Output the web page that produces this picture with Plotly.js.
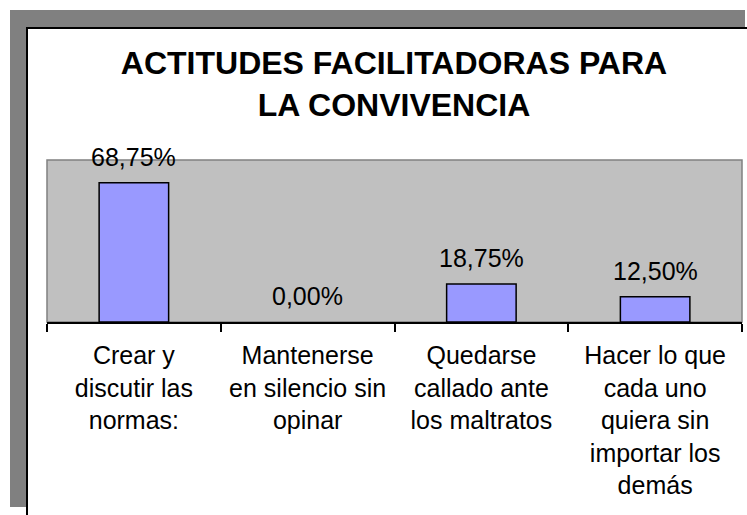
<!DOCTYPE html>
<html>
<head>
<meta charset="utf-8">
<script src="https://cdn.plot.ly/plotly-3.0.1.min.js"></script>
<style>
  html, body { margin: 0; padding: 0; background: #ffffff; overflow: hidden; width: 747px; height: 515px; }
  #shadow { position: absolute; left: 10px; top: 10px; width: 735px; height: 497px; background: #808080; }
  #frame { position: absolute; left: 26px; top: 27px; width: 740px; height: 510px; background: #ffffff;
           border-left: 2px solid #000; border-top: 2px solid #000; }
  #chart { position: absolute; left: 0; top: 0; width: 732px; height: 500px; }
</style>
</head>
<body>
<div id="shadow"></div>
<div id="frame"><div id="chart"></div></div>
<script>
// datos del gráfico
const categorias = [
  "Crear y<br>discutir las<br>normas:",
  "Mantenerse<br>en silencio sin<br>opinar",
  "Quedarse<br>callado ante<br>los maltratos",
  "Hacer lo que<br>cada uno<br>quiera sin<br>importar los<br>demás"
];
const porcentajes = [68.75, 0.00, 18.75, 12.50];
const titulo = "ACTITUDES FACILITADORAS PARA<br>LA CONVIVENCIA";

const fuente = "Liberation Sans, Arial, sans-serif";

// etiquetas de valor encima de cada barra
const etiquetas = categorias.map((c, i) => ({
  x: c,
  y: porcentajes[i],
  xref: "x",
  yref: "y",
  text: porcentajes[i].toFixed(2).replace(".", ",") + "%",
  showarrow: false,
  yanchor: "middle",
  yshift: 26,
  font: { family: fuente, size: 25, color: "#000" }
}));

// sin contorno visible en las barras de altura cero
const bordes = porcentajes.map(v => v > 0 ? 1.5 : 0);

Plotly.newPlot("chart", [{
  type: "bar",
  x: categorias,
  y: porcentajes,
  marker: { color: "#9999ff", line: { color: "#000", width: bordes } },
  hoverinfo: "skip"
}], {
  width: 732,
  height: 500,
  margin: { l: 19, r: 18, t: 131, b: 207 },
  paper_bgcolor: "#ffffff",
  plot_bgcolor: "#c0c0c0",
  bargap: 0.6,
  showlegend: false,
  font: { family: fuente, color: "#000" },
  title: {
    text: titulo,
    font: { family: fuente, size: 32, color: "#000", weight: "bold" },
    x: 0.5,
    xanchor: "center",
    y: 1 - 45 / 500,
    yref: "container",
    yanchor: "middle"
  },
  xaxis: {
    type: "category",
    tickson: "boundaries",
    ticks: "outside",
    ticklen: 8,
    tickwidth: 2,
    tickcolor: "#000",
    showline: true,
    linecolor: "#000",
    linewidth: 2,
    showgrid: false,
    tickfont: { family: fuente, size: 25, color: "#000" },
    ticklabelstandoff: 10
  },
  yaxis: {
    range: [0, 80],
    showgrid: false,
    zeroline: false,
    showticklabels: false,
    ticks: "",
    showline: false
  },
  shapes: [{
    type: "rect", xref: "paper", yref: "paper",
    x0: 0, x1: 1, y0: 0, y1: 1,
    line: { color: "#808080", width: 1.5 },
    layer: "below"
  }],
  annotations: etiquetas
}, { displayModeBar: false, staticPlot: true });
</script>
</body>
</html>
